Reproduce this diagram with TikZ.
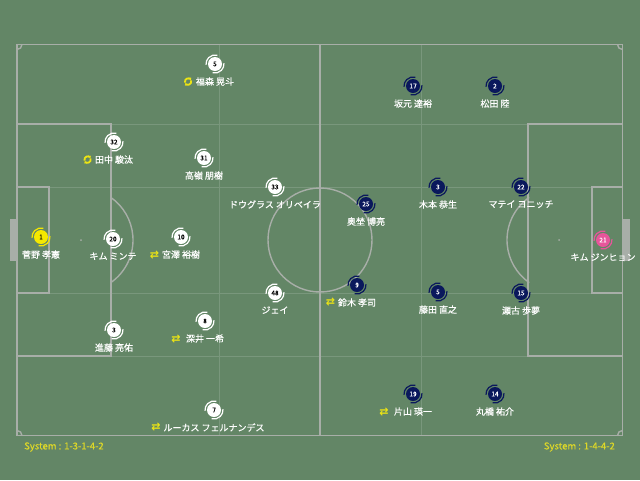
\documentclass[tikz,border=0pt]{standalone}
\usepackage{fontspec}
\setmainfont{Noto Sans CJK JP}
\newfontfamily\namefont{Noto Sans CJK JP}[FakeBold=0.4]
\newfontfamily\symfont{DejaVu Sans}
\usepackage{tikz}
\usetikzlibrary{positioning}
\usetikzlibrary{arrows.meta}

\definecolor{pitch}{RGB}{99,134,102}
\definecolor{pline}{RGB}{168,174,168}
\definecolor{gridline}{RGB}{121,151,124}
\definecolor{navy}{RGB}{10,24,92}
\definecolor{gkyellow}{RGB}{245,232,0}
\definecolor{gkpink}{RGB}{232,85,155}
\definecolor{subyellow}{RGB}{236,228,20}
\definecolor{sysyellow}{RGB}{222,216,40}

\begin{document}
\begin{tikzpicture}
          [x=1pt, y=-1pt,
           home/.style={circle, fill=white, minimum size=14pt, inner sep=0pt,
                        text=black, font=\namefont\fontsize{6.5}{7}\selectfont},
           away/.style={home, fill=navy, text=white},
           pname/.style={text=white, inner sep=1pt, font=\namefont\fontsize{9}{10}\selectfont},
           swapicon/.style={text=subyellow, inner sep=0pt, font=\symfont\bfseries\fontsize{11}{12}\selectfont},
           roticon/.style={circle, minimum size=10pt, inner sep=0pt,
             path picture={
               \draw[subyellow, line width=1.8pt, -{Triangle[length=2.2pt, width=3.8pt]}]
                 (path picture bounding box.center) ++(200:3.2pt) arc (200:30:3.2pt);
               \draw[subyellow, line width=1.8pt, -{Triangle[length=2.2pt, width=3.8pt]}]
                 (path picture bounding box.center) ++(20:3.2pt) arc (20:-150:3.2pt);}},
           fieldline/.style={pline, line width=1.4pt},
           thirdline/.style={gridline, line width=0.9pt},
           swoosh/.style={line width=1.2pt},
           system/.style={text=sysyellow, inner sep=0pt, font=\namefont\fontsize{9.5}{10}\selectfont}]

          \fill[pitch] (0,0) rectangle (640,480);
          \useasboundingbox (0,0) rectangle (640,480);

          % thirds and channels
          \draw[thirdline] (219,44.5) -- (219,435.5);
          \draw[thirdline] (421,44.5) -- (421,435.5);
          \foreach \yy in {124,187,293,356}
            \draw[thirdline] (17,\yy) -- (622.5,\yy);

          % pitch
          \fill[pline] (10,219) rectangle (17,261);
          \fill[pline] (622.5,219) rectangle (630,261);
          \draw[fieldline] (17,44.5) rectangle (622.5,435.5);
          \draw[fieldline] (320,44.5) -- (320,435.5);
          \draw[fieldline] (320,240) circle (52pt);
          \fill[pline] (320,240) circle (1pt);
          \draw[fieldline] (17,124) rectangle (111,356);
          \draw[fieldline] (528,124) rectangle (622.5,356);
          \draw[fieldline] (17,187) rectangle (49,293);
          \draw[fieldline] (592,187) rectangle (622.5,293);
          \draw[fieldline] (81,240) ++(-55:52pt) arc (-55:55:52pt);
          \draw[fieldline] (559,240) ++(125:52pt) arc (125:235:52pt);
          \fill[pline] (81,240) circle (1pt);
          \fill[pline] (559,240) circle (1pt);
          \draw[fieldline] (17,44.5) ++(-90:5pt) arc (-90:0:5pt);
          \draw[fieldline] (622.5,44.5) ++(180:5pt) arc (180:270:5pt);
          \draw[fieldline] (17,435.5) ++(90:5pt) arc (90:0:5pt);
          \draw[fieldline] (622.5,435.5) ++(180:5pt) arc (180:90:5pt);

          % home side
          \node[home, fill=gkyellow] (h1) at (41,237) {1};
          \node[home] (h20) at (113,239) {20};
          \node[home] (h10) at (181,237) {10};
          \node[home] (h33) at (275,187) {33};
          \node[home] (h48) at (275,293) {48};
          \node[home] (h3) at (114,330) {3};
          \node[home] (h8) at (205,321) {8};
          \node[home] (h7) at (214,410) {7};
          \node[home] (h5) at (215,64) {5};
          \node[home] (h32) at (114,142) {32};
          \node[home] (h31) at (204,158) {31};

          \node[pname, below=5pt of h1] (h1n) {菅野 孝憲};
          \node[pname, below=5pt of h20] (h20n) {キム ミンテ};
          \node[pname, below=5pt of h10] (h10n) {宮澤 裕樹};
          \node[pname, below=5pt of h33] (h33n) {ドウグラス オリベイラ};
          \node[pname, below=5pt of h48] (h48n) {ジェイ};
          \node[pname, below=5pt of h3] (h3n) {進藤 亮佑};
          \node[pname, below=5pt of h8] (h8n) {深井 一希};
          \node[pname, below=5pt of h7] (h7n) {ルーカス フェルナンデス};
          \node[pname, below=5pt of h5] (h5n) {福森 晃斗};
          \node[pname, below=5pt of h32] (h32n) {田中 駿汰};
          \node[pname, below=5pt of h31] (h31n) {高嶺 朋樹};

          \node[swapicon, left=1.5pt of h10n] (h10s) {⇄};
          \node[swapicon, left=4pt of h8n] (h8s) {⇄};
          \node[swapicon, left=1.5pt of h7n] (h7s) {⇄};
          \node[roticon, left=1.5pt of h5n] (h5r) {};
          \node[roticon, left=1pt of h32n] (h32r) {};

          % away side
          \node[away] (a17) at (413,86) {17};
          \node[away] (a2) at (495,86) {2};
          \node[away] (a25) at (366,204) {25};
          \node[away] (a3) at (438,187) {3};
          \node[away] (a22) at (521,187) {22};
          \node[away, fill=gkpink] (a21) at (603,240) {21};
          \node[away] (a9) at (357,285) {9};
          \node[away] (a5) at (438,292) {5};
          \node[away] (a15) at (521,293) {15};
          \node[away] (a19) at (413,394) {19};
          \node[away] (a14) at (495,394) {14};

          \node[pname, below=5pt of a17] (a17n) {坂元 達裕};
          \node[pname, below=5pt of a2] (a2n) {松田 陸};
          \node[pname, below=5pt of a25] (a25n) {奥埜 博亮};
          \node[pname, below=5pt of a3] (a3n) {木本 恭生};
          \node[pname, below=5pt of a22] (a22n) {マテイ ヨニッチ};
          \node[pname, below=5pt of a21] (a21n) {キム ジンヒョン};
          \node[pname, below=5pt of a9] (a9n) {鈴木 孝司};
          \node[pname, below=5pt of a5] (a5n) {藤田 直之};
          \node[pname, below=5pt of a15] (a15n) {瀬古 歩夢};
          \node[pname, below=5pt of a19] (a19n) {片山 瑛一};
          \node[pname, below=5pt of a14] (a14n) {丸橋 祐介};

          \node[swapicon, left=1.5pt of a9n] (a9s) {⇄};
          \node[swapicon, left=4pt of a19n] (a19s) {⇄};

          % spin marks round the badges
          \foreach \p/\c in {h1/gkyellow, h20/white, h10/white, h33/white, h48/white,
                             h3/white, h8/white, h7/white, h5/white, h32/white, h31/white,
                             a17/navy, a2/navy, a25/navy, a3/navy, a22/navy, a21/gkpink,
                             a9/navy, a5/navy, a15/navy, a19/navy, a14/navy} {
            \draw[\c, swoosh] (\p.center) ++(75:9pt) arc (75:185:9pt);
            \draw[\c, swoosh] (\p.center) ++(255:9pt) arc (255:365:9pt);
          }

          \node[system, anchor=west] (sysh) at (24,447) {System : 1-3-1-4-2};
          \node[system, anchor=east] (sysa) at (615,447) {System : 1-4-4-2};

        \end{tikzpicture}
\end{document}
